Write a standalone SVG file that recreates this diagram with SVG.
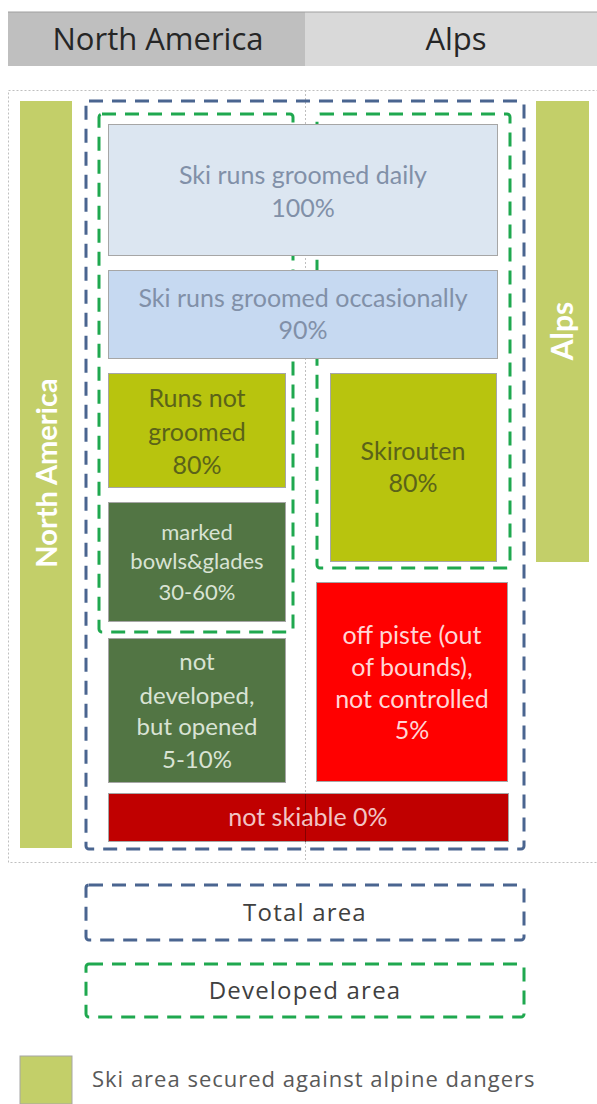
<svg xmlns="http://www.w3.org/2000/svg" width="597" height="1104" viewBox="0 0 597 1104">
<style>
.t{font-family:Lato,"Open Sans","Liberation Sans",sans-serif;text-anchor:middle}
.lg{font-family:"Open Sans","Liberation Sans",sans-serif;text-anchor:middle;font-size:24px;fill:#404040;letter-spacing:1.2px}
.hd{font-family:"Open Sans","Liberation Sans",sans-serif;font-size:31px;fill:#262626;text-anchor:middle}
.bar{fill:#c3cf69}
.bt{font-family:Lato,"Open Sans","Liberation Sans",sans-serif;font-weight:bold;fill:#ffffff;text-anchor:middle}
.box{stroke:#a6a6a6;stroke-width:1}
.blue{fill:none;stroke:#4a6590;stroke-width:3;stroke-dasharray:14 9}
.green{fill:none;stroke:#1fa84f;stroke-width:3;stroke-dasharray:14 9}
.dot{fill:none;stroke:#bfbfbf;stroke-width:1;stroke-dasharray:2 2}
</style>
<g id="header">
<rect x="8" y="12" width="297" height="54" fill="#bfbfbf"/>
<rect x="305" y="12" width="292" height="54" fill="#d9d9d9"/>
<line x1="8" y1="12" x2="597" y2="12" stroke="#a0a0a0" stroke-width="1"/>
<text class="hd" x="158" y="50">North America</text>
<text class="hd" x="456" y="50">Alps</text>
</g>
<g id="frame">
<rect class="dot" x="8.5" y="90.5" width="600" height="772"/>
<line class="dot" x1="305.5" y1="90" x2="305.5" y2="862"/>
</g>
<g id="bar-na">
<rect class="bar" x="20" y="101" width="52" height="747"/>
<text class="bt" font-size="29" transform="translate(57 473) rotate(-90)">North America</text>
</g>
<g id="bar-alps">
<rect class="bar" x="536" y="101" width="53" height="461"/>
<text class="bt" font-size="30" transform="translate(573 331) rotate(-90)">Alps</text>
</g>
<g id="areas">
<rect class="blue" x="86" y="101" width="438" height="748" rx="3"/>
<rect class="green" x="99" y="114" width="194" height="518" rx="3"/>
<rect class="green" x="317" y="114" width="193" height="454" rx="3"/>
</g>
<g id="groomed-daily">
<rect class="box" x="108.5" y="124.5" width="389" height="131" fill="#dce6f1"/>
<text class="t" font-size="25" fill="#8190a8"><tspan x="303" y="184">Ski runs groomed daily</tspan><tspan x="303" y="217">100%</tspan></text>
</g>
<g id="groomed-occasionally">
<rect class="box" x="108.5" y="270.5" width="389" height="88" fill="#c6d9f1"/>
<text class="t" font-size="25" fill="#8190a8"><tspan x="303" y="307">Ski runs groomed occasionally</tspan><tspan x="303" y="339">90%</tspan></text>
</g>
<g id="runs-not-groomed">
<rect class="box" x="108.5" y="373.5" width="177" height="114" fill="#b8c40e"/>
<text class="t" font-size="25" fill="#5b6319"><tspan x="197" y="407">Runs not</tspan><tspan x="197" y="441">groomed</tspan><tspan x="197" y="474">80%</tspan></text>
</g>
<g id="marked-bowls">
<rect class="box" x="108.5" y="502.5" width="177" height="119" fill="#527544"/>
<text class="t" font-size="22" fill="#d9e3d4"><tspan x="197" y="540">marked</tspan><tspan x="197" y="569">bowls&amp;glades</tspan><tspan x="197" y="600">30-60%</tspan></text>
</g>
<g id="skirouten">
<rect class="box" x="330.5" y="373.5" width="166" height="188" fill="#b8c40e"/>
<text class="t" font-size="25" fill="#5b6319"><tspan x="413" y="460">Skirouten</tspan><tspan x="413" y="492">80%</tspan></text>
</g>
<g id="not-developed">
<rect class="box" x="108.5" y="638.5" width="177" height="144" fill="#527544"/>
<text class="t" font-size="24" fill="#d9e3d4"><tspan x="197" y="670">not</tspan><tspan x="197" y="704">developed,</tspan><tspan x="197" y="735">but opened</tspan><tspan x="197" y="768">5-10%</tspan></text>
</g>
<g id="off-piste">
<rect class="box" x="316.5" y="582.5" width="191" height="199" fill="#ff0000"/>
<text class="t" font-size="25" fill="#ffd6d6"><tspan x="412" y="644">off piste (out</tspan><tspan x="412" y="676">of bounds),</tspan><tspan x="412" y="708">not controlled</tspan><tspan x="412" y="739">5%</tspan></text>
</g>
<g id="not-skiable">
<rect class="box" x="108.5" y="793.5" width="400" height="48" fill="#c00000"/>
<line x1="305.5" y1="794" x2="305.5" y2="842" stroke="#600000" stroke-width="1" opacity="0.6"/>
<text class="t" font-size="25" fill="#f2c4c4" x="308" y="826">not skiable 0%</text>
</g>
<g id="legend-total">
<rect class="blue" x="86" y="885" width="438" height="55" rx="3"/>
<text class="lg" x="305" y="921">Total area</text>
</g>
<g id="legend-developed">
<rect class="green" x="86" y="964" width="438" height="53" rx="3"/>
<text class="lg" x="305" y="999">Developed area</text>
</g>
<g id="legend-secured">
<rect class="bar" x="20" y="1056" width="52" height="48" stroke="#a6a6a6" stroke-width="1"/>
<text font-family="'Open Sans','Liberation Sans',sans-serif" font-size="22" letter-spacing="1" fill="#595959" x="92" y="1087">Ski area secured against alpine dangers</text>
</g>
</svg>
